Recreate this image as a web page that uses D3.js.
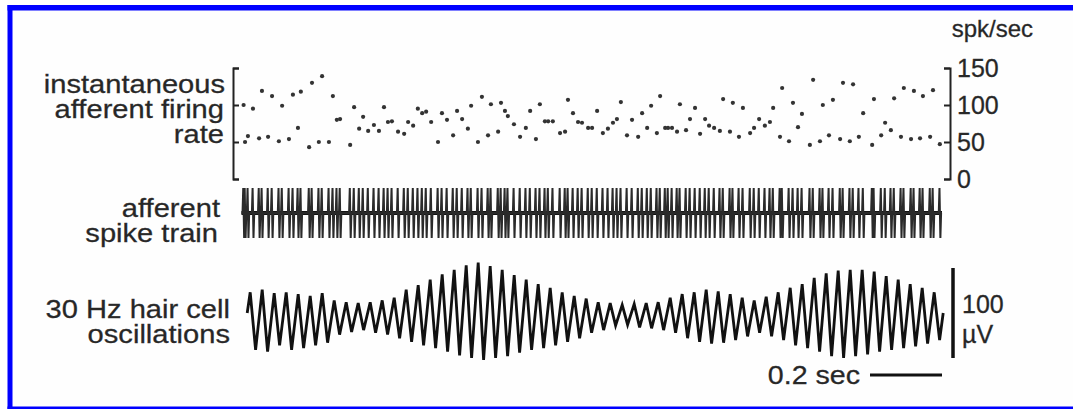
<!DOCTYPE html>
<html>
<head>
<meta charset="utf-8">
<script src="https://cdn.jsdelivr.net/npm/d3@7"></script>
<style>
  body { margin: 0; background: #fff; }
  svg { display: block; }
  text { font-family: "Liberation Sans", Arial, Helvetica, sans-serif; fill: #262626; }
</style>
</head>
<body>
<svg id="fig" width="1073" height="409"></svg>
<script>
// spike times (ms from start of trace) and the instantaneous rate plotted at each one
const spikeTimes = [10,14,22,36,53,61,78,89,108,117,136,147,161,169,192,200,219,228,247,258,269,278,306,317,331,342,356,372,386,400,411,422,439,456,467,481,494,506,517,531,550,561,575,592,603,617,633,642,661,672,689,697,717,725,736,744,761,778,794,806,822,833,847,856,869,889,903,911,925,939,950,967,978,992,1008,1022,1036,1047,1058,1075,1089,1106,1117,1131,1142,1158,1167,1181,1189,1200,1214,1222,1239,1250,1264,1278,1292,1303,1317,1333,1342,1361,1369,1386,1397,1417,1428,1442,1458,1472,1481,1500,1506,1525,1536,1550,1561,1583,1592,1611,1619,1636,1647,1667,1675,1694,1703,1719,1731,1756,1761,1781,1792,1808,1817,1836,1844,1864,1872,1889,1897,1917,1925,1944];
const firingRates = [100,50,58,95,55,119,57,112,51,99,54,114,69,118,43,130,50,139,50,112,80,81,46,97,68,84,65,73,65,97,77,78,64,61,77,72,95,89,91,77,50,89,80,59,92,81,68,99,50,111,59,101,64,103,92,85,74,57,69,92,54,101,78,78,78,62,64,107,89,77,76,69,69,92,62,68,76,81,104,59,80,57,89,69,99,62,112,69,69,69,64,101,66,81,96,61,81,72,69,65,108,64,103,57,96,62,69,81,72,77,96,57,123,51,103,70,88,46,134,51,100,59,107,54,130,51,128,57,89,46,108,59,76,66,109,57,123,54,119,55,112,57,120,47];
const rateTicks = [0, 50, 100, 150];

// 30 Hz hair cell oscillation: peak and trough of each cycle (uV)
const oscPeaks   = [23,26,22,23,21,19,22,14,12,11,12,14,17,26,31,37,43,48,53,56,52,48,42,37,32,28,23,19,16,12,11,9,10,11,12,17,21,23,26,24,21,17,14,18,23,28,32,39,44,47,48,48,46,41,37,32,28,23];
const oscTroughs = [-41,-43,-36,-41,-39,-36,-33,-24,-21,-19,-22,-24,-28,-32,-36,-39,-43,-47,-50,-52,-50,-48,-44,-41,-39,-36,-32,-28,-22,-19,-14,-13,-16,-17,-19,-22,-28,-32,-34,-33,-30,-26,-22,-26,-30,-36,-39,-43,-48,-50,-48,-46,-43,-41,-39,-37,-34,-30];
const oscFreq = 30;      // Hz
const oscStart = 20;     // ms

const scaleBarTime = 200;   // ms
const scaleBarVolt = 100;   // uV

const svg = d3.select("#fig");

// frame
svg.append("rect").attr("width", 1073).attr("height", 409).attr("fill", "#fefefe");
svg.append("rect").attr("x", 7.5).attr("y", 5).attr("width", 1066).attr("height", 5.5).attr("fill", "#0000ff");
svg.append("rect").attr("x", 7.5).attr("y", 5).attr("width", 5).attr("height", 404).attr("fill", "#0000ff");
svg.append("rect").attr("x", 7.5).attr("y", 406.5).attr("width", 1066).attr("height", 2.5).attr("fill", "#0000ff");

const x = d3.scaleLinear().domain([0, 1950]).range([240, 942]);
const yRate = d3.scaleLinear().domain([0, 150]).range([179, 68]);
const ySpike = d3.scaleLinear().domain([-1, 1]).range([238, 188]);
const yOsc = d3.scaleLinear().domain([-scaleBarVolt / 2, scaleBarVolt / 2]).range([358, 268]);

function label(px, py, str, size, sx, anchor) {
  svg.append("text")
    .attr("transform", "translate(" + px + "," + py + ") scale(" + sx + ",1)")
    .attr("text-anchor", anchor || "end")
    .style("font-size", size + "px")
    .attr("stroke", "#333").attr("stroke-width", 0.3)
    .text(str);
}

// ---- firing rate panel
const leftAxis = d3.axisLeft(yRate).tickValues(rateTicks).tickSize(-6).tickFormat("");
const gl = svg.append("g").attr("transform", "translate(233,0)").call(leftAxis);
const rightAxis = d3.axisRight(yRate).tickValues(rateTicks).tickSize(-6).tickPadding(7);
const gr = svg.append("g").attr("transform", "translate(950,0)").call(rightAxis);
[gl, gr].forEach(g => {
  g.selectAll("path, line").attr("stroke", "#222").attr("stroke-width", 2);
});
gr.selectAll("text").attr("fill", "#262626").style("font-size", "25px")
  .attr("stroke", "#333").attr("stroke-width", 0.3)
  .style("font-family", '"Liberation Sans", Arial, sans-serif');

label(1033, 37, "spk/sec", 24, 1, "end");

svg.append("g").selectAll("circle")
  .data(d3.zip(spikeTimes, firingRates))
  .enter()
  .append("circle")
  .attr("cx", d => x(d[0]))
  .attr("cy", d => yRate(d[1]))
  .attr("r", 2.1)
  .attr("fill", "#333");

label(225, 93, "instantaneous", 26, 1.12);
label(224, 118, "afferent firing", 26, 1.12);
label(224, 143, "rate", 26, 1.12);

// ---- spike train
const spikePts = [[spikeTimes[0] - 6, 0]];
spikeTimes.forEach(t => {
  spikePts.push([t - 3, 0], [t - 1, 1], [t + 1.5, -1], [t + 3.5, 0]);
});
spikePts.push([spikeTimes[spikeTimes.length - 1] + 6, 0]);
const spikeLine = d3.line().x(d => x(d[0])).y(d => ySpike(d[1]));

svg.append("path")
  .attr("d", spikeLine([[spikeTimes[0] - 6, 0], [spikeTimes[spikeTimes.length - 1] + 6, 0]]))
  .attr("stroke", "#111").attr("stroke-width", 4).attr("fill", "none");
svg.append("path")
  .attr("d", spikeLine(spikePts))
  .attr("stroke", "#2a2a2a").attr("stroke-width", 2).attr("fill", "none");

label(220, 217, "afferent", 26, 1.12);
label(218, 242, "spike train", 26, 1.12);

// ---- hair cell oscillation
const period = 1000 / oscFreq;
const oscPts = [[oscStart, 0]];
oscPeaks.forEach((p, i) => {
  const t0 = oscStart + i * period;
  oscPts.push([t0 + period * 0.25, p], [t0 + period * 0.7, oscTroughs[i]]);
});
oscPts.push([oscStart + oscPeaks.length * period, 0]);
const oscLine = d3.line().x(d => x(d[0])).y(d => yOsc(d[1]));
svg.append("path")
  .attr("d", oscLine(oscPts))
  .attr("stroke", "#111").attr("stroke-width", 2.8).attr("fill", "none");

label(230, 318, "30 Hz hair cell", 26, 1.12);
label(230, 343, "oscillations", 26, 1.12);

// ---- scale bars
svg.append("line")
  .attr("x1", 953).attr("x2", 953)
  .attr("y1", yOsc(scaleBarVolt / 2)).attr("y2", yOsc(-scaleBarVolt / 2))
  .attr("stroke", "#111").attr("stroke-width", 3.5);
label(962, 313, "100", 25, 1, "start");
label(962, 343, "\u00b5V", 25, 1, "start");

svg.append("line")
  .attr("x1", x(1950 - scaleBarTime)).attr("x2", x(1950))
  .attr("y1", 375).attr("y2", 375)
  .attr("stroke", "#111").attr("stroke-width", 3);
label(860, 384, "0.2 sec", 26, 1.1);
</script>
</body>
</html>
